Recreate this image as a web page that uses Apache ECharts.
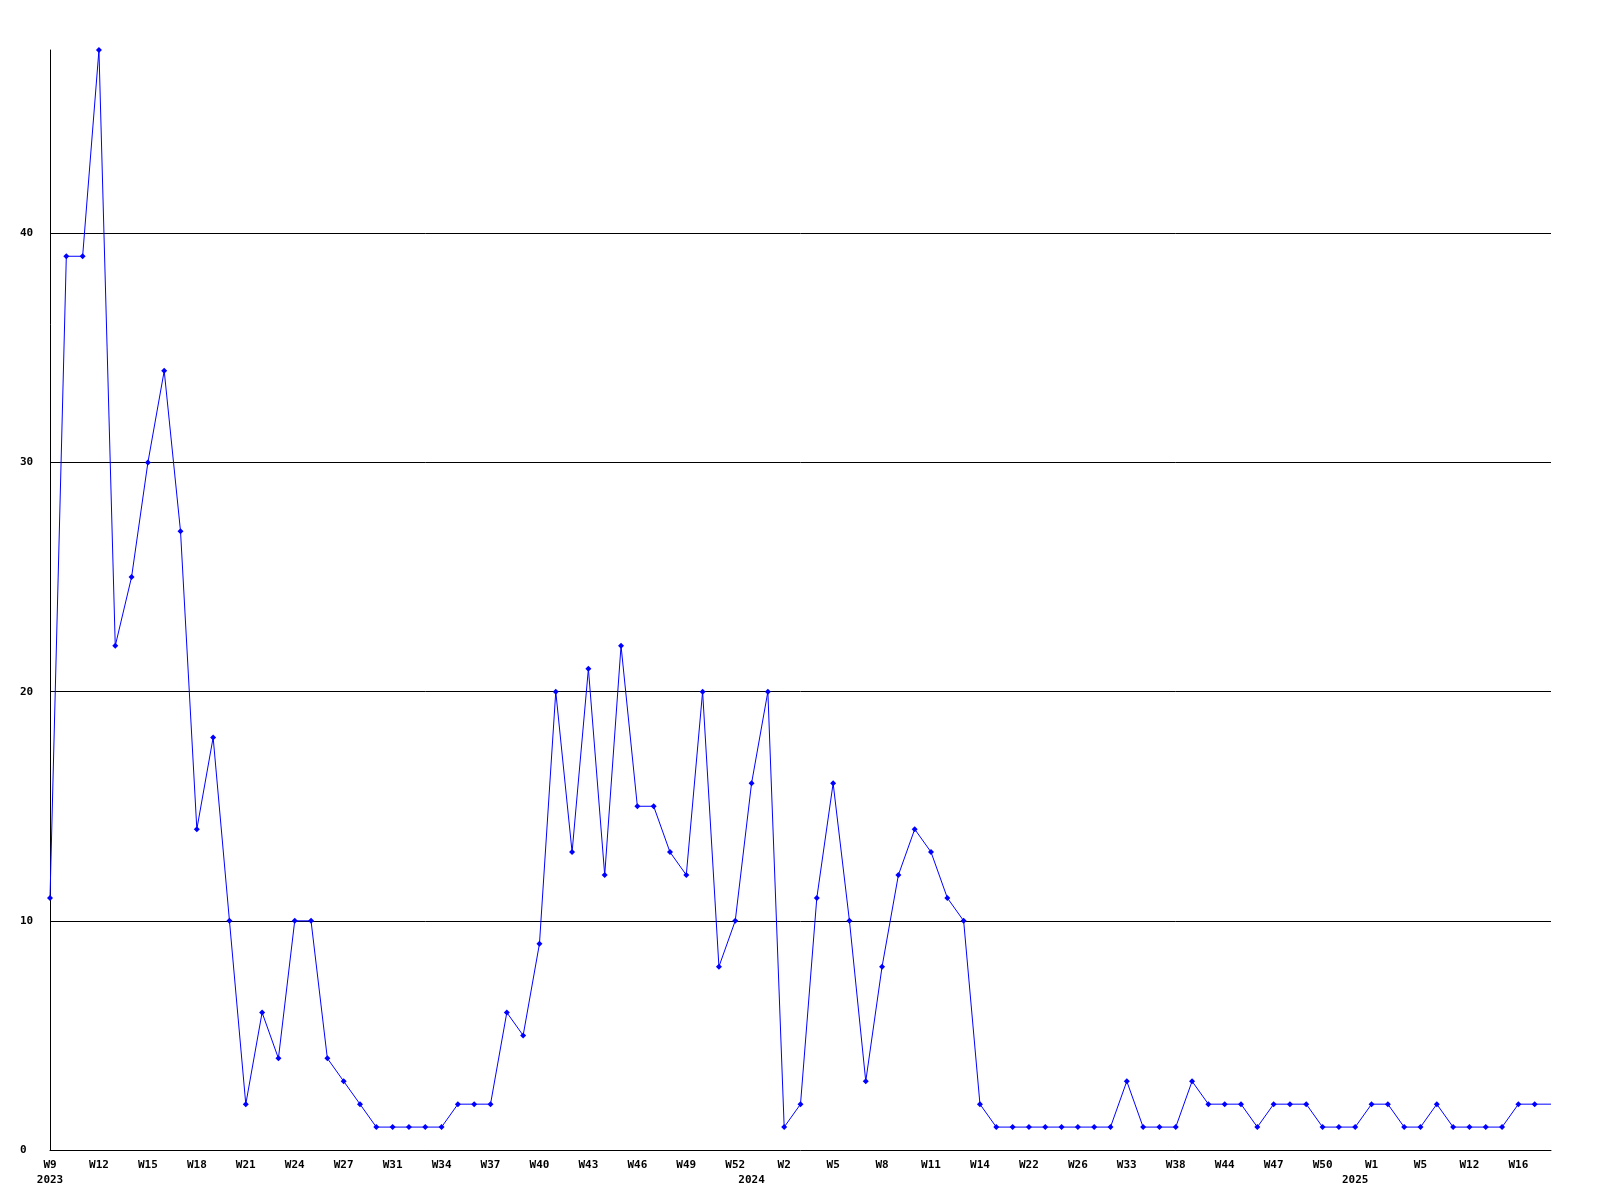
<!DOCTYPE html>
<html>
<head>
<meta charset="utf-8">
<script src="https://cdn.jsdelivr.net/npm/echarts@6/dist/echarts.min.js"></script>
<style>html,body{margin:0;padding:0;background:#fff;}#chart{width:1600px;height:1200px;}</style>
</head>
<body>
<div id="chart"></div>
<script>
const weeks = [
  'W9','W10','W11','W12','W13','W14','W15','W16','W17','W18','W19','W20','W21','W22','W23','W24','W25','W26','W27','W28','W29',
  'W31','W32','W33','W34','W35','W36','W37','W38','W39','W40','W41','W42','W43','W44','W45','W46','W47','W48','W49','W50','W51','W52',
  'W0','W1','W2','W3','W4','W5','W6','W7','W8','W9','W10','W11','W12','W13','W14','W15','W18','W22','W23','W25','W26','W28','W30','W33','W35','W36','W38','W40','W42','W44','W45','W46','W47','W48','W49','W50','W52',
  'W0','W1','W2','W4','W5','W8','W10','W12','W13','W15','W16','W17','W18'
];
const years = ['2023','2024','2025'];
const yearStartIndex = [0, 43, 80];
const counts = [
  11,39,39,48,22,25,30,34,27,14,18,10,2,6,4,10,10,4,3,2,1,
  1,1,1,1,2,2,2,6,5,9,20,13,21,12,22,15,15,13,12,20,8,10,
  16,20,1,2,11,16,10,3,8,12,14,13,11,10,2,1,1,1,1,1,1,1,1,3,1,1,1,3,2,2,2,1,2,2,2,1,1,
  1,2,2,1,1,2,1,1,1,1,2,2,2
];
const yTicks = [0, 10, 20, 30, 40];

const yearAt = {};
yearStartIndex.forEach((idx, k) => { yearAt[idx] = years[k]; });

const data = counts.map((v, i) => i === counts.length - 1 ? { value: v, symbol: 'none' } : v);

const chart = echarts.init(document.getElementById('chart'), null, { renderer: 'canvas' });
const font = '"DejaVu Sans Mono", monospace';
chart.setOption({
  animation: false,
  backgroundColor: '#ffffff',
  grid: { left: 50, right: 49, top: 50, bottom: 50, containLabel: false },
  xAxis: {
    type: 'category',
    data: weeks,
    boundaryGap: false,
    axisLine: { show: true, lineStyle: { color: '#000', width: 1 } },
    axisTick: { show: false },
    splitLine: { show: false },
    axisLabel: {
      margin: 8,
      color: '#000',
      fontFamily: font,
      fontWeight: 'bold',
      fontSize: 11,
      lineHeight: 15,
      interval: (i) => i % 3 === 0 || yearAt[i] !== undefined,
      formatter: (val, i) => {
        const w = i % 3 === 0 ? val : '';
        return yearAt[i] !== undefined ? w + '\n' + yearAt[i] : w;
      }
    }
  },
  yAxis: {
    type: 'value',
    min: 0,
    max: 48,
    interval: 10,
    axisLine: { show: true, lineStyle: { color: '#000', width: 1 } },
    axisTick: { show: false },
    splitLine: { show: true, showMinLine: false, showMaxLine: false, lineStyle: { color: '#000', width: 1 } },
    axisLabel: {
      showMaxLabel: false,
      align: 'left',
      margin: 30,
      color: '#000',
      fontFamily: font,
      fontWeight: 'bold',
      fontSize: 11,
      formatter: (v) => yTicks.indexOf(v) >= 0 ? String(v) : ''
    }
  },
  series: [{
    type: 'line',
    data: data,
    symbol: 'diamond',
    symbolSize: 6,
    showAllSymbol: true,
    lineStyle: { color: '#0000ff', width: 1 },
    itemStyle: { color: '#0000ff' },
    emphasis: { disabled: true }
  }]
});
</script>
</body>
</html>
